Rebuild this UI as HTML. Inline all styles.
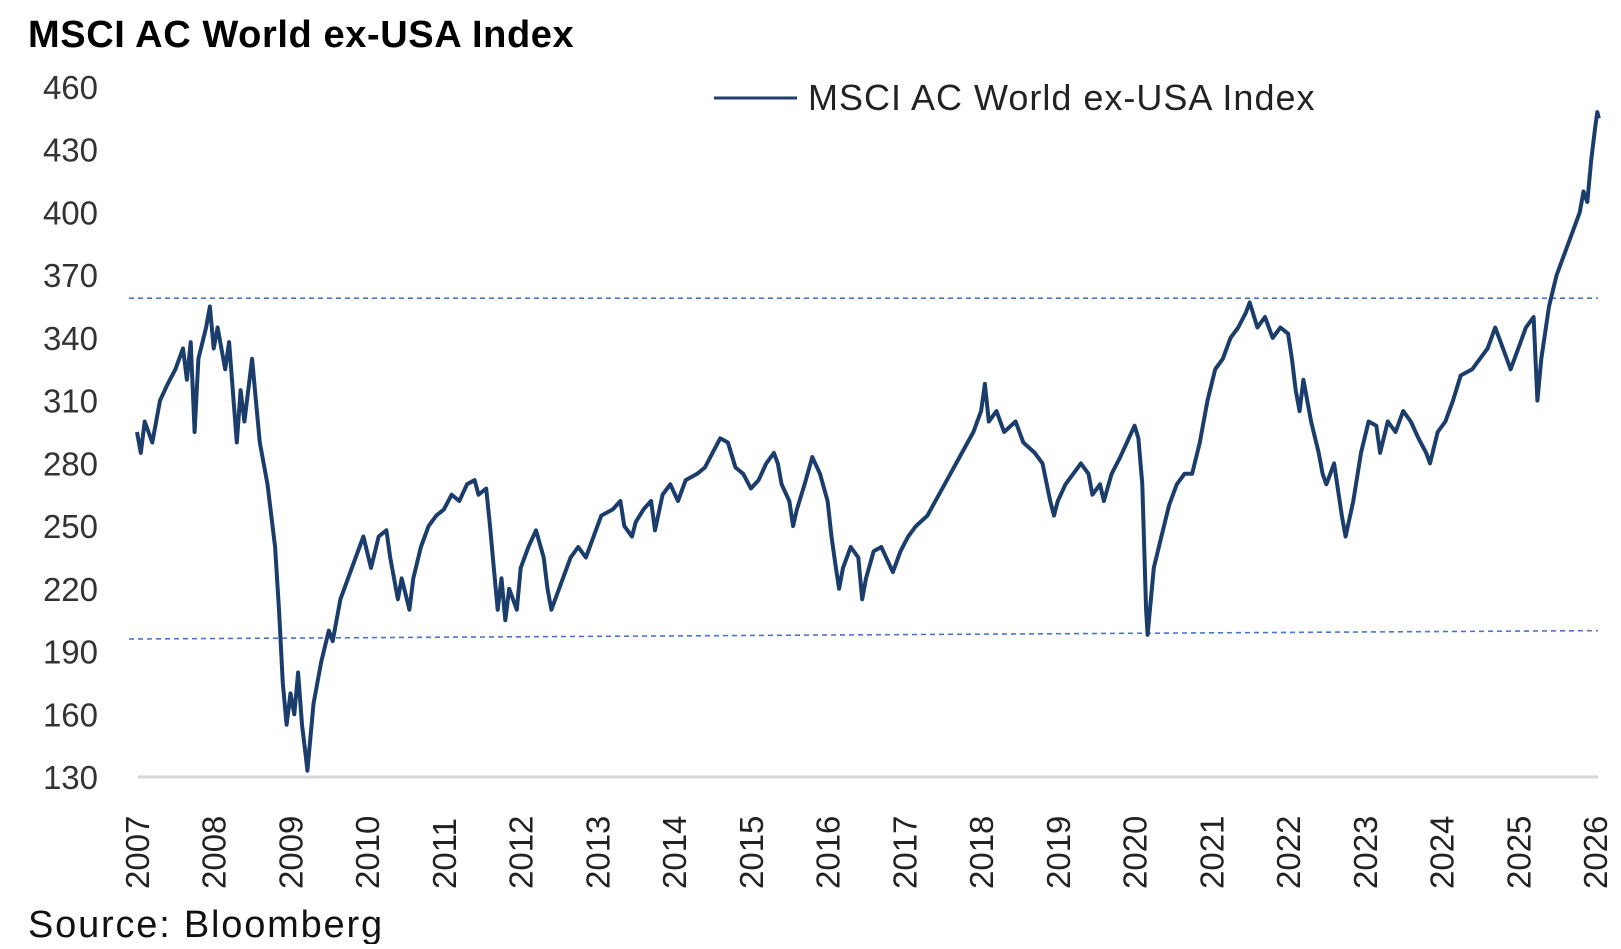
<!DOCTYPE html>
<html><head><meta charset="utf-8"><style>
body{margin:0;background:#fff;width:1621px;height:944px;overflow:hidden;font-family:"Liberation Sans",sans-serif}
</style></head><body>
<svg width="1621" height="944" viewBox="0 0 1621 944">
<text x="28" y="47" font-size="38" font-weight="bold" letter-spacing="0.6" font-family="Liberation Sans, sans-serif">MSCI AC World ex-USA Index</text>
<g id="yaxis"></g>
<g id="xaxis"></g>
<line x1="138" y1="777" x2="1598" y2="777" stroke="#d6d6d6" stroke-width="3"/>
<g id="refs"></g>
<g id="series"></g>
<g>
<line x1="714" y1="98" x2="797" y2="98" stroke="#1f3f6e" stroke-width="3"/>
<text x="808" y="110" font-size="36" letter-spacing="1" fill="#222">MSCI AC World ex-USA Index</text>
</g>
<text x="28" y="937" font-size="38" letter-spacing="1.8" fill="#111">Source: Bloomberg</text>
</svg>
<script>
const yTicks=[130,160,190,220,250,280,310,340,370,400,430,460];
const xYears=[2007,2008,2009,2010,2011,2012,2013,2014,2015,2016,2017,2018,2019,2020,2021,2022,2023,2024,2025,2026];
const refStart=[2007,359,196];
const refEnd=[2026,359,200];
const dates=[2007.0,2007.05,2007.1,2007.2,2007.3,2007.4,2007.5,2007.6,2007.65,2007.7,2007.75,2007.8,2007.9,2007.95,2008.0,2008.05,2008.15,2008.2,2008.3,2008.35,2008.4,2008.5,2008.55,2008.6,2008.7,2008.8,2008.85,2008.9,2008.95,2009.0,2009.05,2009.1,2009.15,2009.2,2009.22,2009.3,2009.4,2009.5,2009.55,2009.65,2009.75,2009.85,2009.95,2010.05,2010.15,2010.25,2010.3,2010.4,2010.45,2010.55,2010.6,2010.7,2010.8,2010.9,2011.0,2011.1,2011.2,2011.3,2011.4,2011.45,2011.55,2011.6,2011.65,2011.7,2011.75,2011.8,2011.85,2011.9,2011.95,2012.0,2012.1,2012.2,2012.3,2012.35,2012.4,2012.45,2012.55,2012.65,2012.75,2012.85,2012.95,2013.05,2013.2,2013.3,2013.35,2013.45,2013.5,2013.6,2013.7,2013.75,2013.85,2013.95,2014.05,2014.15,2014.3,2014.4,2014.5,2014.6,2014.7,2014.8,2014.9,2015.0,2015.1,2015.2,2015.3,2015.35,2015.4,2015.5,2015.55,2015.6,2015.7,2015.8,2015.9,2016.0,2016.05,2016.1,2016.15,2016.2,2016.3,2016.4,2016.45,2016.5,2016.6,2016.7,2016.8,2016.85,2016.95,2017.05,2017.15,2017.3,2017.45,2017.6,2017.75,2017.9,2018.0,2018.05,2018.1,2018.2,2018.3,2018.45,2018.55,2018.7,2018.8,2018.9,2018.95,2019.0,2019.1,2019.3,2019.4,2019.45,2019.55,2019.6,2019.7,2019.8,2019.9,2020.0,2020.05,2020.1,2020.15,2020.17,2020.25,2020.35,2020.45,2020.55,2020.65,2020.75,2020.85,2020.95,2021.05,2021.15,2021.25,2021.35,2021.45,2021.5,2021.6,2021.7,2021.8,2021.9,2022.0,2022.05,2022.1,2022.15,2022.2,2022.3,2022.4,2022.45,2022.5,2022.6,2022.7,2022.75,2022.85,2022.95,2023.05,2023.15,2023.2,2023.3,2023.4,2023.5,2023.6,2023.7,2023.8,2023.85,2023.95,2024.05,2024.15,2024.25,2024.4,2024.5,2024.6,2024.7,2024.75,2024.85,2024.9,2025.0,2025.1,2025.2,2025.25,2025.3,2025.4,2025.5,2025.6,2025.7,2025.8,2025.85,2025.9,2025.95,2026.0,2026.03,2026.05];
const values=[295,285,300,290,310,318,325,335,320,338,295,330,345,355,335,345,325,338,290,315,300,330,310,290,270,240,210,175,155,170,160,180,155,140,133,165,185,200,195,215,225,235,245,230,245,248,235,215,225,210,225,240,250,255,258,265,262,270,272,265,268,250,230,210,225,205,220,215,210,230,240,248,235,220,210,215,225,235,240,235,245,255,258,262,250,245,252,258,262,248,265,270,262,272,275,278,285,292,290,278,275,268,272,280,285,280,270,262,250,258,270,283,275,262,245,232,220,230,240,235,215,225,238,240,232,228,238,245,250,255,265,275,285,295,305,318,300,305,295,300,290,285,280,262,255,262,270,280,275,265,270,262,275,282,290,298,292,270,210,198,230,245,260,270,275,275,290,310,325,330,340,345,352,357,345,350,340,345,342,330,315,305,320,300,285,275,270,280,255,245,262,285,300,298,285,300,295,305,300,292,285,280,295,300,310,322,325,330,335,345,340,330,325,335,345,350,310,330,355,370,380,390,400,410,405,425,440,448,445];
const NS='http://www.w3.org/2000/svg';
const x0=137,x1=1595,yTop=87,yBot=777;
function xs(d){return x0+(d-2007)/(2026-2007)*(x1-x0);}
function ys(v){return yBot-(v-130)/(460-130)*(yBot-yTop);}
function mk(t,a){const e=document.createElementNS(NS,t);for(const k in a)e.setAttribute(k,a[k]);return e;}
const ya=document.getElementById('yaxis');
yTicks.forEach(v=>{const t=mk('text',{x:98,y:ys(v)+12,'text-anchor':'end','font-size':33,fill:'#333'});


t.textContent=v;ya.appendChild(t);});
const xa=document.getElementById('xaxis');
xYears.forEach(yr=>{const cx=xs(yr);const t=mk('text',{x:0,y:0,transform:`translate(${cx+12},889) rotate(-90)`,'font-size':33,fill:'#222'});


t.textContent=yr;xa.appendChild(t);});
const rg=document.getElementById('refs');
[1,2].forEach(i=>{const l=mk('line',{x1:xs(refStart[0])-8,y1:ys(refStart[i]),x2:xs(refEnd[0])+3,y2:ys(refEnd[i]),stroke:'#4a74c9','stroke-width':1.6,'stroke-dasharray':'5 4'});


rg.appendChild(l);});
const p=mk('polyline',{points:dates.map((d,i)=>xs(d).toFixed(1)+','+ys(values[i]).toFixed(1)).join(' '),fill:'none',stroke:'#1a3d6c','stroke-width':4,'stroke-linejoin':'round'});


document.getElementById('series').appendChild(p);
</script>
</body></html>
